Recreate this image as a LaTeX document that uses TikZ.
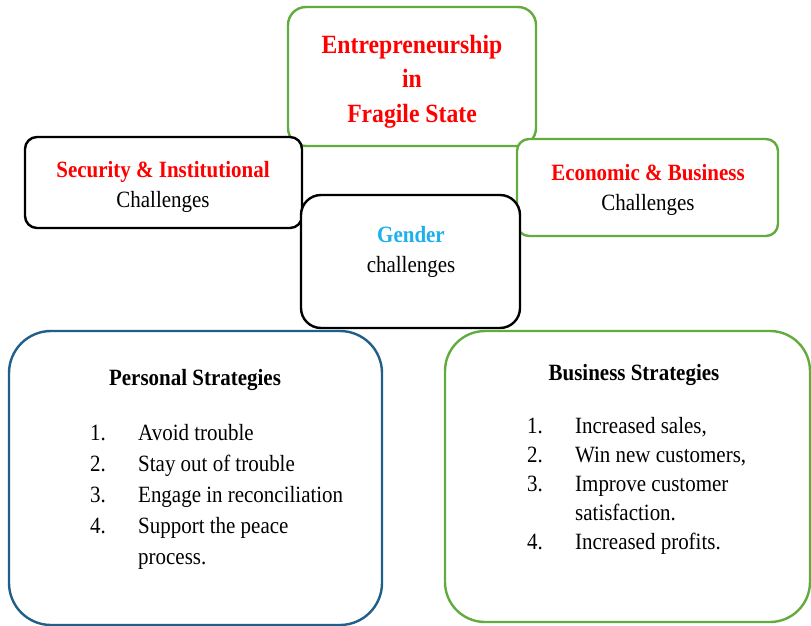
\documentclass[tikz,border=0pt]{standalone}
\usepackage{fontspec}
\setmainfont[FakeStretch=0.9]{Liberation Serif}
\definecolor{boxgreen}{HTML}{62AC3E}
\definecolor{boxblue}{HTML}{1F5F8A}
\definecolor{gendblue}{HTML}{1CB0EC}
\begin{document}
\begin{tikzpicture}[x=1pt,y=-1pt,
	chbox/.style={draw,line width=2.4pt,fill=white,rounded corners=#1,inner sep=0pt},
	big/.style={font=\fontsize{26.3}{34.5}\selectfont\bfseries,text=red,align=center,anchor=base},
	txt/.style={font=\fontsize{23.3}{30}\selectfont,anchor=base},
	head/.style={txt,font=\fontsize{23.3}{30}\selectfont\bfseries},
	item/.style={txt,anchor=base west,inner sep=0pt}]
	\useasboundingbox (0,0) rectangle (811,626);
	% challenge boxes
	\node[chbox=18pt,draw=boxgreen,minimum width=248pt,minimum height=139pt] (title) at (412,76.5) {};
	\node[chbox=12pt,minimum width=277pt,minimum height=91pt] (secur) at (163.5,182.5) {};
	\node[chbox=12pt,draw=boxgreen,minimum width=261pt,minimum height=97pt] (econ) at (647.5,187.5) {};
	\node[chbox=20pt,minimum width=219pt,minimum height=133pt] (gender) at (410.5,261.5) {};
	\node[big] (titletxt) at (412,122) {Entrepreneurship\\in\\Fragile State};
	\node[head,text=red] (securhd) at (163,177) {Security \& Institutional};
	\node[txt] (securtx) at (163,207) {Challenges};
	\node[head,text=red] (econhd) at (648,180) {Economic \& Business};
	\node[txt] (econtx) at (648,210) {Challenges};
	\node[head,text=gendblue] (genderhd) at (411,242) {Gender};
	\node[txt] (gendertx) at (411,272) {challenges};
	% strategy boxes
	\node[chbox=42pt,draw=boxblue,minimum width=373pt,minimum height=294pt] (personal) at (195.5,478) {};
	\node[chbox=40pt,draw=boxgreen,minimum width=365pt,minimum height=291pt] (business) at (627.5,476.5) {};
	\node[head] (personalhd) at (195,385) {Personal Strategies};
	\foreach \n/\y/\t in {1./440/Avoid trouble,2./471/Stay out of trouble,3./502/Engage in reconciliation,4./533/Support the peace,/564/process.}{
		\node[item] at (90,\y) {\n};
		\node[item] at (138,\y) {\t};
	}
	\node[head] (businesshd) at (634,380) {Business Strategies};
	\foreach \n/\y/\t in {1./433/{Increased sales,},2./462/{Win new customers,},3./491/Improve customer,/520/satisfaction.,4./549/Increased profits.}{
		\node[item] at (527,\y) {\n};
		\node[item] at (575,\y) {\t};
	}
\end{tikzpicture}
\end{document}
